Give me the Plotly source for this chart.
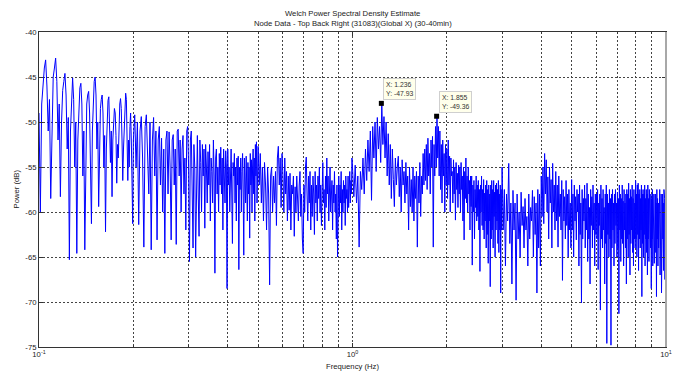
import numpy as np
import plotly.graph_objects as go

# ---------------- data ----------------
# Welch frequency bins are uniform within each band: (first bin Hz, bin width Hz)
band1_start, band1_step = 0.100, 0.001
band2_start, band2_step = 0.200, 0.002
band3_start, band3_step = 0.500, 0.004
band4_start, band4_step = 1.00, 0.01
band5_start, band5_step = 3.000, 0.025

power_band1 = [
    -49.0, -60.0, -48.0, -45.5, -44.0, -43.1, -46.0, -51.0, -47.5, -58.5,
    -49.0, -45.0, -44.0, -42.9, -45.5, -52.0, -48.0, -58.3, -50.0, -46.5,
    -45.5, -44.6, -47.0, -53.0, -49.5, -65.3, -51.0, -46.5, -45.1, -47.5,
    -55.0, -50.0, -64.6, -52.0, -47.5, -46.2, -45.7, -48.0, -56.0, -51.0,
    -64.2, -52.5, -48.0, -47.0, -46.6, -49.0, -55.0, -61.3, -51.0, -47.0,
    -45.5, -45.0, -47.0, -53.0, -50.0, -59.4, -52.0, -48.5, -47.5, -47.0,
    -49.0, -55.0, -51.5, -62.2, -53.0, -49.0, -47.6, -47.2, -50.0, -54.5,
    -51.0, -58.3, -52.0, -49.5, -48.5, -49.0, -51.5, -56.8, -52.5, -54.0,
    -50.0, -48.0, -47.4, -48.5, -52.0, -56.5, -53.0, -50.0, -47.5, -46.8,
    -47.5, -51.0, -56.5, -52.0, -55.0, -50.5, -49.0, -52.0, -57.5, -61.3,
]
power_band2 = [
    -52, -49.2, -55, -50, -61.4, -51, -49.4, -54, -63.9, -50.5,
    -49.2, -53, -58, -50, -64.2, -52, -49.5, -56, -51, -63.1,
    -52, -50.5, -57, -51.8, -60, -53, -64.6, -52, -51, -58,
    -51.1, -55, -63.1, -52, -51.4, -57, -53, -63.6, -51, -50.8,
    -56, -52, -60, -53, -51.5, -58, -54, -62, -51, -50.5,
    -55, -65.5, -52, -51, -57, -64, -52.5, -55, -65, -53,
    -51.5, -58, -62.7, -52, -54.5, -60, -52.5, -56, -53, -61.8,
    -52.5, -55, -59, -53.3, -57, -52.5, -61, -54, -55.5, -59,
    -52, -56, -66.8, -54, -53, -58, -55, -60, -53.5, -57,
    -52.8, -58, -54, -62, -53, -56, -59, -53.2, -55, -68.5,
    -53, -57, -55, -60, -54, -53, -58, -63.5, -54.5, -56,
    -53.5, -59, -55, -61, -54, -57, -53.8, -66.4, -55, -57.5,
    -54, -60, -55.5, -53.5, -58, -64.8, -54, -56, -59, -53.8,
    -56, -61, -54.5, -58, -55, -62.9, -53.5, -57, -54.2, -60,
    -55, -53, -58, -54, -61, -52.5, -56, -52.2, -59, -54,
]
power_band3 = [
    -52.7, -57, -53.5, -59, -55, -61, -54.5, -57, -62, -55,
    -58, -68.1, -56, -55, -60, -56, -59, -55.5, -61.5, -54,
    -52.7, -57, -54, -59.5, -53.5, -56, -60, -54, -58, -55.5,
    -61, -56, -59.8, -55.7, -62, -57, -58, -56, -62.7, -57.2,
    -60, -56, -59, -61, -57, -55.5, -60.5, -58, -63, -64.6,
    -57, -60, -55, -53.9, -58, -61, -56, -59, -55.5, -62,
    -57, -60.5, -56, -58, -62.5, -55.5, -59, -57, -61, -56,
    -58.5, -55, -60, -57, -61.5, -56, -54.5, -59, -57.5, -62,
    -56, -59.5, -54, -58, -56, -61, -57, -55, -60, -58,
    -56.5, -62, -57, -59, -55.5, -60, -58, -63, -57, -65,
    -58, -56, -60.5, -57, -59, -55.5, -62, -57.5, -60, -56.5,
    -59, -57, -61.5, -56, -58.5, -57.5, -60, -56, -59.5, -57,
    -55.5, -59, -56.5, -58, -54,
]
power_band4 = [
    -55, -58.3, -54.8, -59, -56, -63.9, -55.5, -57.5, -54, -58,
    -53, -56.5, -52, -55.5, -51, -58.7, -50.5, -54, -50, -55.5,
    -49.5, -53, -50.5, -54.5, -47.93, -52.5, -49.4, -54, -50, -56,
    -51.3, -57, -52.5, -58.5, -53, -56.4, -59.4, -54, -57, -55,
    -53.8, -58.3, -55, -60, -54.2, -57, -55.5, -59, -54.5, -58,
    -56, -62, -55, -59.4, -56.4, -60, -55, -61, -56, -58.5,
    -55.5, -63.9, -56, -59, -54.5, -60.5, -56, -58, -53.5, -57,
    -53, -56.5, -52.5, -57.5, -51.8, -56, -53.5, -58, -52, -55,
    -51.6, -63.9, -52.5, -56, -50.5, -55, -49.36, -54, -50.5, -56,
    -51, -57.5, -52.5, -59, -52, -56, -53.5, -60, -52.5, -57,
    -53, -58.5, -52, -57, -53.8, -60, -54, -56, -55.5, -59,
    -54.2, -58, -55, -60.9, -54.5, -57.5, -55.7, -59.5, -54.8, -58,
    -55, -60, -54.5, -57.5, -56, -61, -55, -63.1, -55.5, -58.5,
    -54, -59, -56, -60, -55, -58, -56.5, -62, -56, -59.4,
    -56, -65.9, -57, -60, -56.5, -63, -57.5, -59.5, -56, -61,
    -57, -60.5, -56.5, -62, -57.5, -66.6, -57, -60, -56, -61.5,
    -57.5, -62, -56.4, -63, -57.9, -61, -57, -64, -56.5, -62.5,
    -57.5, -65.7, -57, -61, -58, -68.3, -57, -63, -56.5, -62,
    -57.5, -64, -56.5, -60.5, -57.8, -65, -57, -62, -56.8, -61,
    -57.5, -63.5, -56.5, -64.5, -58, -62, -57, -69, -57.5, -62,
]
power_band5 = [
    -55, -62, -57.5, -66, -58, -61, -54.6, -63.5, -59, -68,
    -57.6, -62, -59, -69.8, -58, -63, -60, -65, -57.8, -61.5,
    -59.4, -64, -58.5, -62, -60.5, -66, -58, -63, -59.5, -61,
    -57.6, -65, -58.3, -62.5, -59, -69, -57.5, -64, -58, -66,
    -56, -60.5, -55, -61.3, -53.5, -58, -54.2, -60, -56.1, -63,
    -55, -59, -56.4, -64, -54.6, -60, -57, -62, -55.5, -61,
    -57, -63.9, -56, -60.5, -58, -62, -56.5, -67.6, -57.5, -61,
    -58.3, -63, -56.5, -61.5, -58, -65, -57.5, -62, -59, -64,
    -56.4, -62, -58, -65, -57, -61, -58.3, -63.1, -57.5, -60,
    -58, -66, -57, -62.5, -59, -70.1, -57.5, -63, -58.5, -61,
    -57, -64, -58.5, -62, -56.8, -65.5, -58, -63, -59.5, -68,
    -57.5, -61.5, -58.3, -64, -57, -62, -59, -66, -58, -62.5,
    -58, -63, -57.5, -66.4, -59, -61.5, -58, -70.9, -57, -63,
    -58.5, -64, -57.5, -62, -59.5, -68, -58, -63.5, -57, -74.6,
    -58, -62.5, -59, -65, -57.5, -63, -58.5, -74.8, -58, -64,
    -57.5, -62, -59, -66, -58, -63.5, -57.5, -61.5, -59, -65,
    -57.8, -64, -58.5, -71.3, -57, -62, -58, -65.5, -58.5, -63,
    -57, -63.5, -58.8, -66, -57.5, -62, -59, -64, -58, -68,
    -57.5, -63, -58, -65, -56.8, -62.5, -58.5, -67, -57.5, -63.5,
    -58.3, -62, -57, -64.5, -58.5, -66, -57.5, -63, -59, -64,
    -56.5, -63, -58, -65, -57, -62.5, -56.8, -66.5, -58, -63,
    -57.5, -64, -58.5, -62, -57, -69.4, -58, -63.5, -57.5, -65,
    -58, -62.5, -57, -66, -58.5, -63, -57.5, -64.5, -58, -67,
    -57, -63, -58.5, -65.5, -57.5, -62, -59, -64, -58, -68.5,
    -58.5, -63, -57.5, -66, -59, -64, -58, -65.7, -59.5, -63,
    -58, -64.5, -59, -69.4, -57.5, -63, -58.5, -66, -59, -64,
    -58.5, -63.5, -57.5, -67, -59, -64, -58, -69, -59.5, -65,
    -58, -63, -59, -66.5, -57.5, -64, -58.5, -67.5, -59, -62,
]

# data tips
tip_freq = [1.236, 1.855]
tip_power = [-47.93, -49.36]
tip_labels = ["X: 1.236<br>Y: -47.93", "X: 1.855<br>Y: -49.36"]

# axis ticks
y_tick_vals = [-75, -70, -65, -60, -55, -50, -45, -40]
y_tick_text = ["-75", "-70", "-65", "-60", "-55", "-50", "-45", "-40"]
x_major_vals = [0.1, 1, 10]
x_major_text = ["10<sup>-1</sup>", "10<sup>0</sup>", "10<sup>1</sup>"]
x_minor_vals = [0.2, 0.3, 0.4, 0.5, 0.6, 0.7, 0.8, 0.9,
                2, 3, 4, 5, 6, 7, 8, 9]

title_line1 = "Welch Power Spectral Density Estimate"
title_line2 = "Node Data - Top Back Right (31083)(Global X) (30-40min)"
x_title = "Frequency (Hz)"
y_title = "Power (dB)"

# ---------------- build ----------------
bands = [
    (band1_start, band1_step, power_band1),
    (band2_start, band2_step, power_band2),
    (band3_start, band3_step, power_band3),
    (band4_start, band4_step, power_band4),
    (band5_start, band5_step, power_band5),
]
freqs, power = [], []
for start, step, vals in bands:
    freqs.extend((start + step * np.arange(len(vals))).tolist())
    power.extend(vals)

fig = go.Figure()
fig.add_trace(go.Scatter(x=freqs, y=power, mode="lines",
                         line=dict(color="#0000ff", width=1),
                         hoverinfo="skip"))
fig.add_trace(go.Scatter(x=tip_freq, y=tip_power, mode="markers",
                         marker=dict(symbol="square", size=5, color="black"),
                         hoverinfo="skip"))

for fx, py, lab in zip(tip_freq, tip_power, tip_labels):
    fig.add_annotation(x=np.log10(fx), y=py, xref="x", yref="y", text=lab,
                       showarrow=False, xanchor="left", yanchor="bottom",
                       xshift=2, yshift=3, align="left",
                       bgcolor="#FFFFEB", bordercolor="#cfcfcf", borderwidth=1,
                       borderpad=2, font=dict(size=6.8, color="#333333"))

txt_color = "#1a1a1a"
fsize = 7.7
# titles as text placed relative to the plot frame
fig.add_annotation(text=title_line1, xref="paper", yref="paper", x=0.5, y=1,
                   xanchor="center", yanchor="middle", yshift=18.5,
                   showarrow=False, font=dict(size=fsize, color=txt_color))
fig.add_annotation(text=title_line2, xref="paper", yref="paper", x=0.5, y=1,
                   xanchor="center", yanchor="middle", yshift=8.7,
                   showarrow=False, font=dict(size=fsize, color=txt_color))
fig.add_annotation(text=x_title, xref="paper", yref="paper", x=0.5, y=0,
                   xanchor="center", yanchor="middle", yshift=-19.5,
                   showarrow=False, font=dict(size=fsize, color=txt_color))
fig.add_annotation(text=y_title, xref="paper", yref="paper", x=0, y=0.5,
                   xanchor="center", yanchor="middle", xshift=-23, textangle=-90,
                   showarrow=False, font=dict(size=fsize, color=txt_color))

grid_dash = "2px,2px"
grid_color = "#444444"
fig.update_layout(
    width=676, height=372,
    margin=dict(l=39, r=10, t=32, b=25),
    paper_bgcolor="white", plot_bgcolor="white",
    showlegend=False,
    font=dict(family="Liberation Sans, Arial, sans-serif", size=fsize, color=txt_color),
    xaxis=dict(type="log", range=[-1, 1], automargin=False,
               tickmode="array", tickvals=x_major_vals, ticktext=x_major_text,
               showgrid=True, gridcolor=grid_color, gridwidth=1, griddash=grid_dash,
               showline=True, linecolor="#333333", linewidth=1, mirror="ticks",
               ticks="inside", ticklen=4, tickcolor="#333333",
               minor=dict(tickvals=x_minor_vals, showgrid=True, gridcolor=grid_color,
                          gridwidth=1, griddash=grid_dash, ticks="inside",
                          ticklen=2, tickcolor="#333333"),
               zeroline=False),
    yaxis=dict(range=[-75, -40], automargin=False,
               tickmode="array", tickvals=y_tick_vals, ticktext=y_tick_text,
               showgrid=True, gridcolor=grid_color, gridwidth=1, griddash=grid_dash,
               showline=True, linecolor="#333333", linewidth=1, mirror="ticks",
               ticks="inside", ticklen=4, tickcolor="#333333",
               zeroline=False),
)
fig.add_shape(type="line", xref="paper", yref="paper", x0=1, x1=1, y0=0, y1=1,
              line=dict(color="#a8a8a8", width=2))

fig.write_html("out.html",
               config={"displayModeBar": False, "staticPlot": True},
               post_script="document.body.style.margin='0px';"
                           "document.body.style.overflow='hidden';")
